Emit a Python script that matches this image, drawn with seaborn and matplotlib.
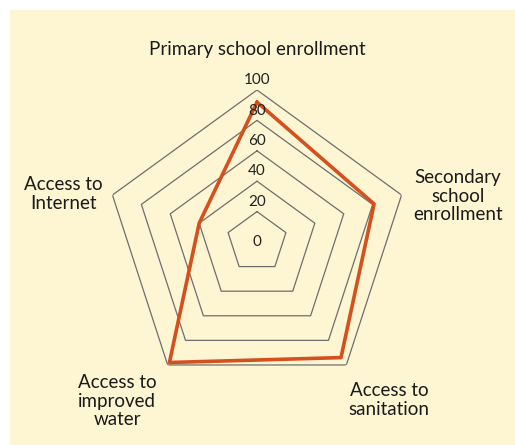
import numpy as np
import matplotlib
matplotlib.use("Agg")
import matplotlib.pyplot as plt
import seaborn as sns
from matplotlib.patches import Rectangle

categories = ["Primary school enrollment", "Secondary\nschool\nenrollment",
              "Access to\nsanitation", "Access to\nimproved\nwater", "Access to\nInternet"]
values = [92, 81, 94, 98, 40]
levels = [20, 40, 60, 80, 100]
tick_labels = ["0", "20", "40", "60", "80", "100"]

sns.set_style("white")
plt.rcParams['font.family'] = ['Lato', 'DejaVu Sans']

W, H = 515, 445
fig = plt.figure(figsize=(W / 100, H / 100), dpi=100, facecolor="white")
fig.patches.append(Rectangle((10 / W, 0), 1 - 10 / W, (H - 10) / H,
                             transform=fig.transFigure, facecolor="#FEF5D3",
                             edgecolor="none", zorder=-5))

cx, cy, R = 257, 242, 152
ax = fig.add_axes([(cx - R) / W, (H - cy - R) / H, 2 * R / W, 2 * R / H], projection="polar")
ax.set_facecolor("none")
ax.set_theta_zero_location("N")
ax.set_theta_direction(-1)
ax.set_ylim(0, 100)
ax.spines["polar"].set_visible(False)
ax.grid(False)
ax.set_xticks([])
ax.set_yticks([])

n = len(categories)
theta = np.arange(n) * 2 * np.pi / n
theta_closed = np.append(theta, theta[0] + 2 * np.pi)

for lv in levels:
    ax.plot(theta_closed, [lv] * (n + 1), color="#6E6E6E", lw=0.9, zorder=1)

sns.lineplot(x=theta_closed, y=values + [values[0]], sort=False, estimator=None,
             ax=ax, color="#D4501E", lw=2.6, zorder=3)

for i, t in enumerate(tick_labels):
    v = [0] + levels
    ax.annotate(t, xy=(0, v[i]), xytext=(0, 0 if i == 0 else 7), textcoords="offset points",
                ha="center", va="center", fontsize=11, color="#222222", zorder=4,
                annotation_clip=False)

label_pos = [(257, 50), (458, 196), (389, 400), (117, 401), (63, 194)]
for lab, (px, py) in zip(categories, label_pos):
    fig.text(px / W, 1 - py / H, lab, ha="center", va="center", fontsize=13.5,
             color="#1a1a1a", linespacing=1.12)

fig.savefig("out.png", dpi=100, facecolor="white")
